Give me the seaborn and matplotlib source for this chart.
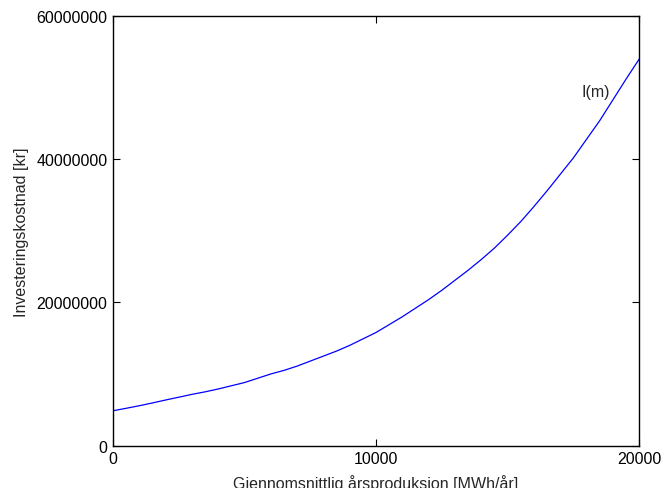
import numpy as np
import pandas as pd
import matplotlib
matplotlib.use('Agg')
import matplotlib.pyplot as plt
import seaborn as sns

# (hver 500 MWh/år)
produksjon = [0, 500, 1000, 1500, 2000, 2500, 3000, 3500, 4000, 4500, 5000,
              5500, 6000, 6500, 7000, 7500, 8000, 8500, 9000, 9500, 10000,
              10500, 11000, 11500, 12000, 12500, 13000, 13500, 14000, 14500, 15000,
              15500, 16000, 16500, 17000, 17500, 18000, 18500, 19000, 19500, 20000]
kostnad = [4.86e6, 5.2e6, 5.56e6, 5.95e6, 6.36e6, 6.75e6, 7.15e6, 7.5e6, 7.9e6, 8.35e6, 8.8e6,
           9.4e6, 10.0e6, 10.5e6, 11.1e6, 11.8e6, 12.5e6, 13.2e6, 14.0e6, 14.9e6, 15.8e6,
           16.9e6, 18.0e6, 19.2e6, 20.4e6, 21.7e6, 23.1e6, 24.5e6, 26.0e6, 27.6e6, 29.4e6,
           31.3e6, 33.4e6, 35.6e6, 37.9e6, 40.2e6, 42.8e6, 45.4e6, 48.3e6, 51.2e6, 54.0e6]
x_ticks = [0, 10000, 20000]
y_ticks = [0, 20000000, 40000000, 60000000]

sns.set_theme(style="white")
plt.rcParams['font.family'] = ['Liberation Sans', 'DejaVu Sans']

df = pd.DataFrame({'m': produksjon, 'I': kostnad})

fig = plt.figure(figsize=(6.61, 4.89), dpi=100)
ax = fig.add_axes([0.171, 0.0869, 0.796, 0.878])
sns.lineplot(data=df, x='m', y='I', color='blue', linewidth=0.9, ax=ax)

ax.set_xlim(0, 20000)
ax.set_ylim(0, 60000000)
ax.set_xticks(x_ticks)
ax.set_xticklabels([str(t) for t in x_ticks])
ax.set_yticks(y_ticks)
ax.set_yticklabels([str(t) for t in y_ticks])
ax.tick_params(direction='in', length=5, width=0.8, colors='black', labelsize=11.5,
               top=True, right=True, bottom=True, left=True, pad=4)
for s in ax.spines.values():
    s.set_color('black')
    s.set_linewidth(1.0)

ax.text(17800, 49.5e6, 'I(m)', fontsize=11.5, va='center', ha='left')
ax.set_xlabel('Gjennomsnittlig årsproduksjon [MWh/år]', fontsize=11.5, labelpad=6)
ax.set_ylabel('Investeringskostnad [kr]', fontsize=11.5, labelpad=5)

fig.savefig('out.png', dpi=100)
